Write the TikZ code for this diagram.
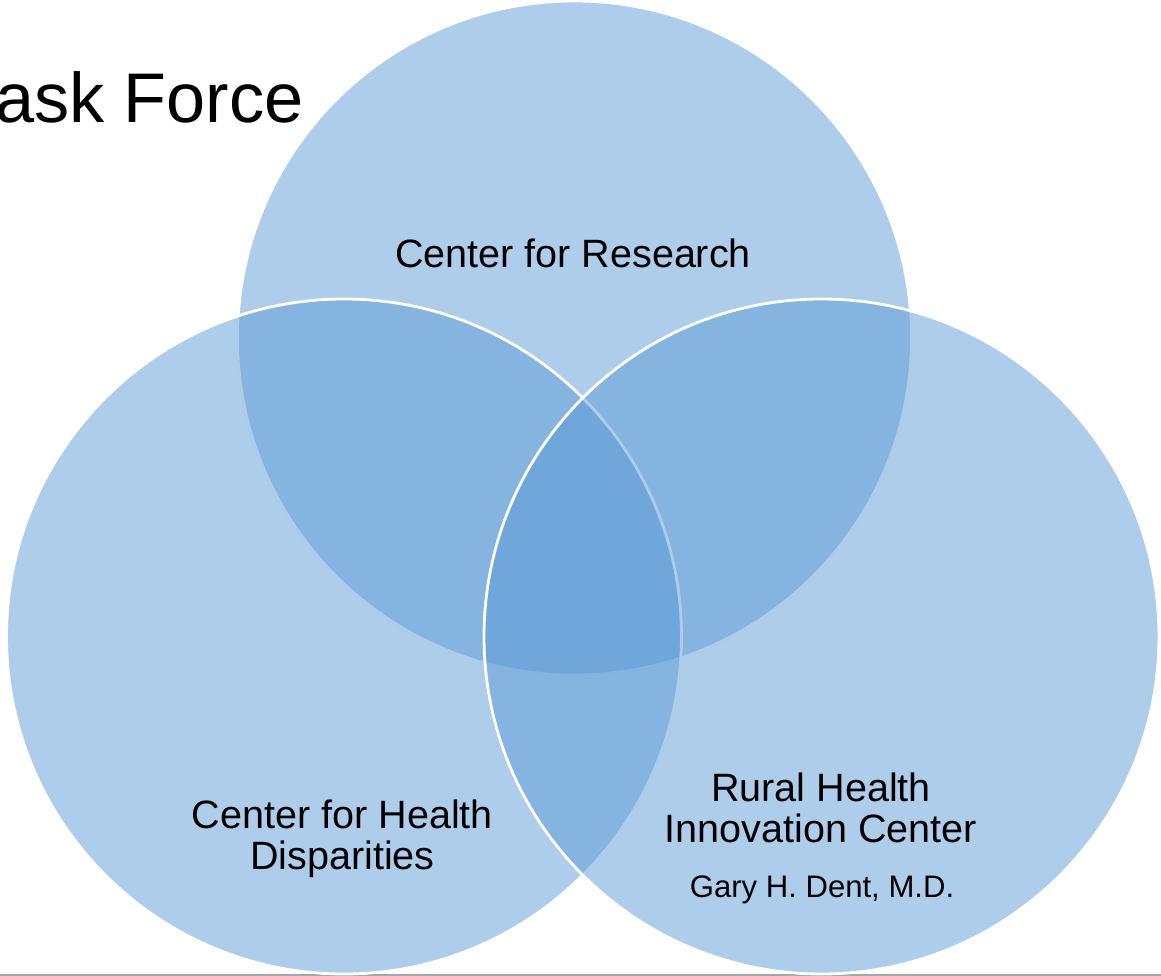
\documentclass[tikz,border=0pt]{standalone}
\usepackage{fontspec}
\setmainfont{Liberation Sans}
\definecolor{vennblue}{HTML}{5B9BD5}
\tikzset{
	venn/.style={fill=vennblue, fill opacity=.5, draw=white, line width=1.6pt},
	vtext/.style={inner sep=0pt, align=center, font=\fontsize{22.5}{23.2}\selectfont}
}
\begin{document}
\begin{tikzpicture}[x=0.02cm, y=-0.02cm]
	\useasboundingbox (0,0) rectangle (1161,976);
	\draw[gray!70, line width=1pt] (0,975.3) -- (1161,975.3);
	% the three centres
	\draw[venn] (574.5,338) circle[radius=337];
	\draw[venn] (344,636.5) circle[radius=337.5];
	\draw[venn] (821.5,636.5) circle[radius=337.5];
	\node[inner sep=0pt, anchor=base east, font=\fontsize{40}{44}\selectfont] (title) at (304,123) {ask Force};
	\node[vtext, anchor=base] (research) at (573,268) {Center for Research};
	\node[vtext] (disparities) at (342.5,838.5) {Center for Health\\Disparities};
	\node[vtext] (rural) at (821,808) {Rural Health\\Innovation Center};
	\node[vtext, anchor=base, font=\fontsize{17.7}{20}\selectfont] (dent) at (822,897) {Gary H. Dent, M.D.};
\end{tikzpicture}
\end{document}
